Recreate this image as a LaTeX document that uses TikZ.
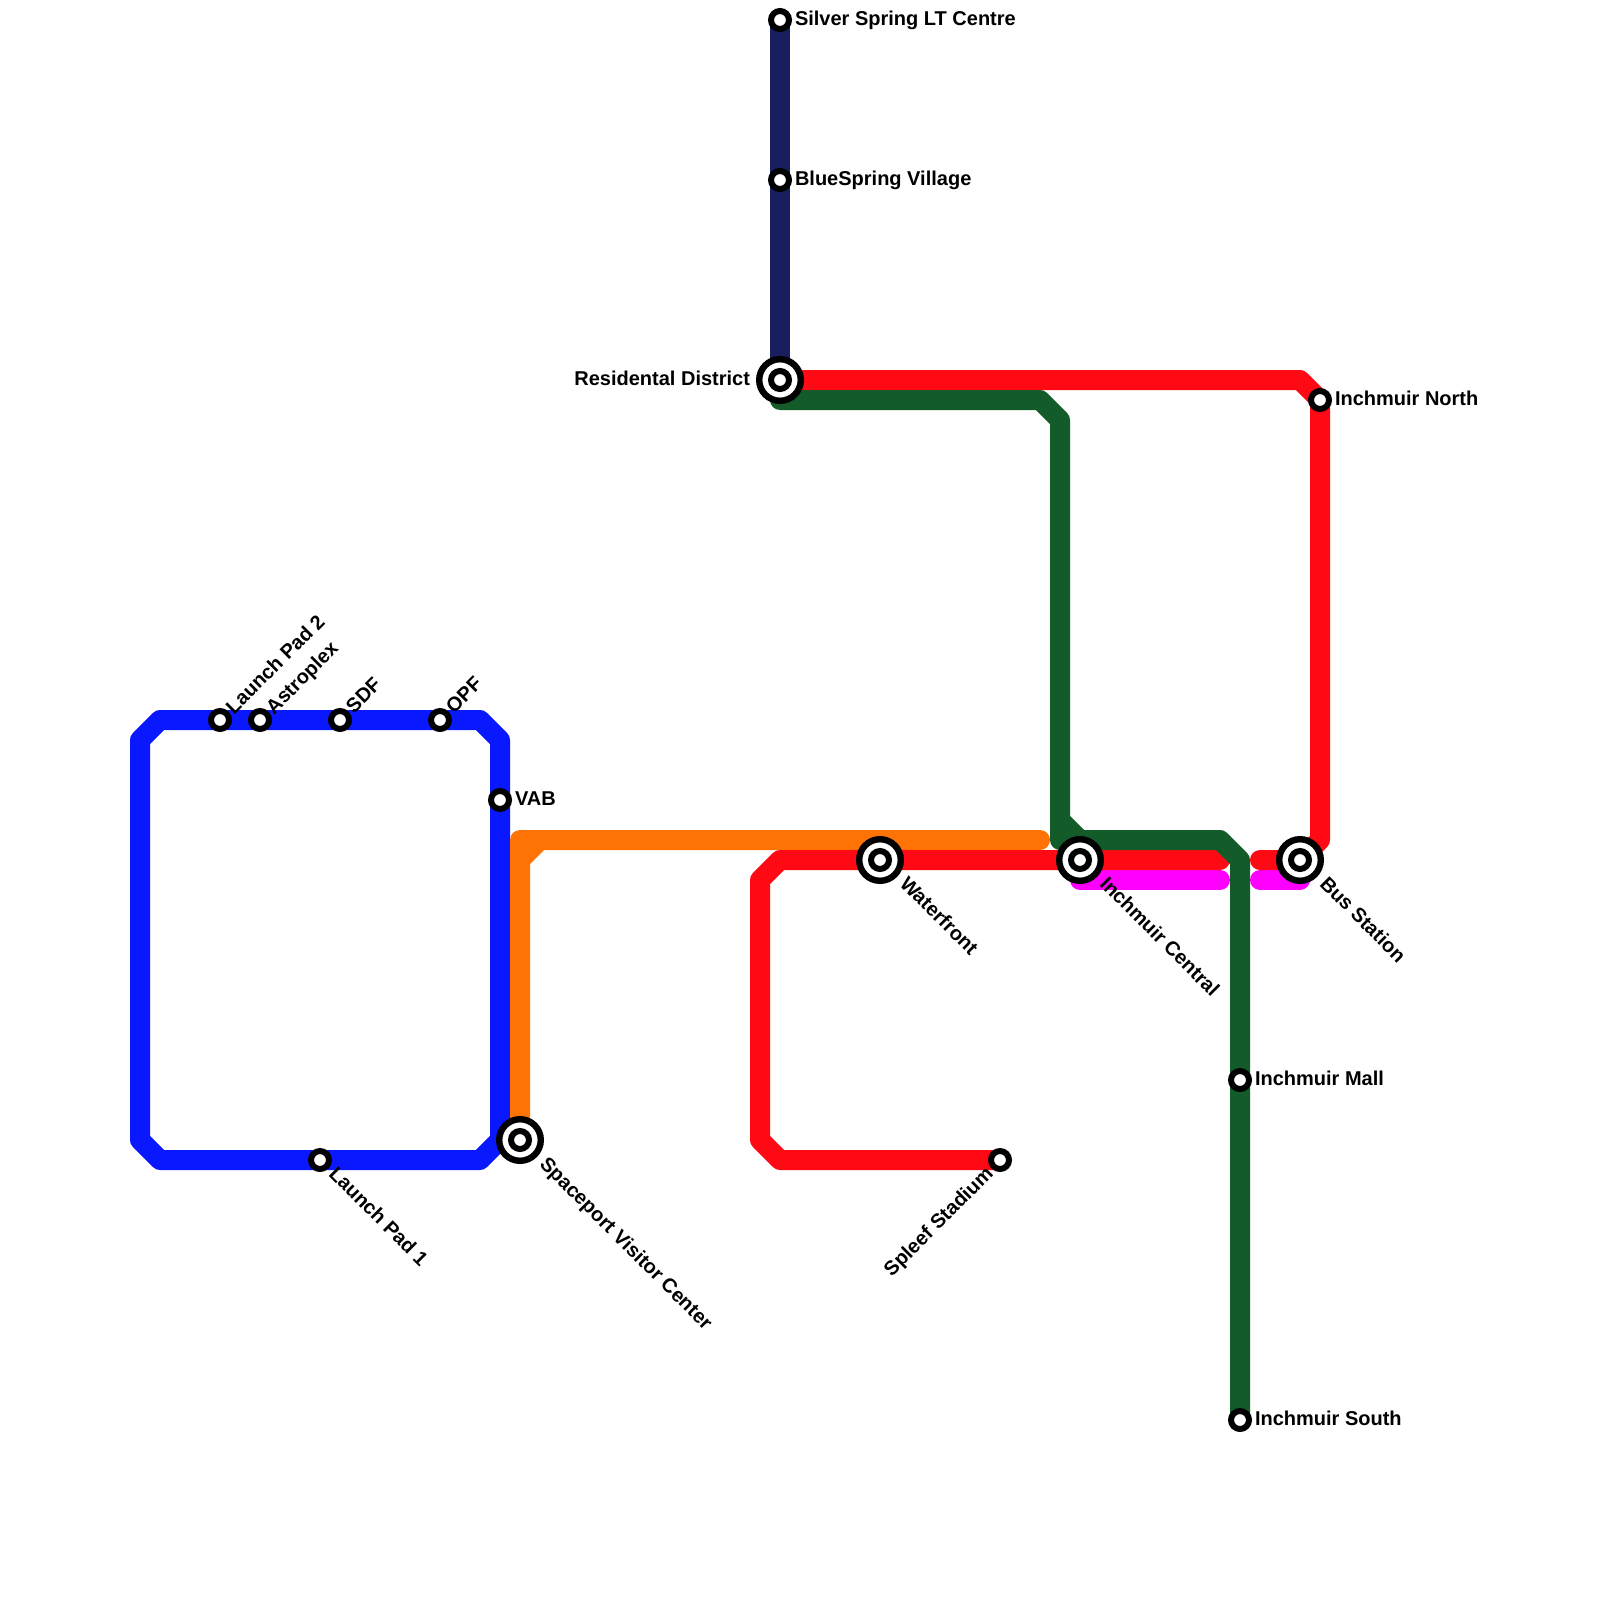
\documentclass[tikz,border=0pt]{standalone}
\usepackage{fontspec}
\setmainfont{Liberation Sans}
\usetikzlibrary{positioning,calc,backgrounds}

\definecolor{navyline}{RGB}{25,30,95}
\definecolor{redline}{RGB}{255,10,20}
\definecolor{greenline}{RGB}{19,92,42}
\definecolor{blueline}{RGB}{10,24,255}
\definecolor{orangeline}{RGB}{255,115,5}
\definecolor{magentaline}{RGB}{255,0,255}

\tikzset{
    stop/.style={circle,draw=black,fill=white,line width=3pt,inner sep=0pt,outer sep=0pt,minimum size=9pt},
    bigstop/.style={circle,draw=black,fill=white,line width=3.2pt,inner sep=0pt,outer sep=0pt,minimum size=20.8pt},
    stoplabel/.style={inner sep=0pt,outer sep=0pt,text height=7.2pt,text depth=0pt,font=\bfseries\fontsize{10}{12}\selectfont},
    metro/.style={line width=10pt,line cap=round,line join=round}
}

\begin{document}
\begin{tikzpicture}[x=0.5pt,y=-0.5pt]
    \useasboundingbox (0,0) rectangle (1600,1600);

    % single stops
    \node[stop] (silver) at (780,20) {};
    \node[stop] (bluespring) at (780,180) {};
    \node[stop] (north) at (1320,400) {};
    \node[stop] (mall) at (1240,1080) {};
    \node[stop] (south) at (1240,1420) {};
    \node[stop] (spleef) at (1000,1160) {};
    \node[stop] (pad2) at (220,720) {};
    \node[stop] (astroplex) at (260,720) {};
    \node[stop] (sdf) at (340,720) {};
    \node[stop] (opf) at (440,720) {};
    \node[stop] (vab) at (500,800) {};
    \node[stop] (pad1) at (320,1160) {};

    % interchanges
    \node[bigstop] (residental) at (780,380) {};
    \node[stop] (residental-in) at (residental.center) {};
    \node[bigstop] (waterfront) at (880,860) {};
    \node[stop] (waterfront-in) at (waterfront.center) {};
    \node[bigstop] (central) at (1080,860) {};
    \node[stop] (central-in) at (central.center) {};
    \node[bigstop] (bus) at (1300,860) {};
    \node[stop] (bus-in) at (bus.center) {};
    \node[bigstop] (spaceport) at (520,1140) {};
    \node[stop] (spaceport-in) at (spaceport.center) {};

    % labels
    \node[stoplabel,anchor=west] (silver-label) at ($(silver.center)+(15,-2)$) {Silver Spring LT Centre};
    \node[stoplabel,anchor=west] (bluespring-label) at ($(bluespring.center)+(15,-2)$) {BlueSpring Village};
    \node[stoplabel,anchor=east] (residental-label) at ($(residental.center)+(-30,-2)$) {Residental District};
    \node[stoplabel,anchor=west] (north-label) at ($(north.center)+(15,-2)$) {Inchmuir North};
    \node[stoplabel,anchor=west] (mall-label) at ($(mall.center)+(15,-2)$) {Inchmuir Mall};
    \node[stoplabel,anchor=west] (south-label) at ($(south.center)+(15,-2)$) {Inchmuir South};
    \node[stoplabel,anchor=west] (vab-label) at ($(vab.center)+(15,-2)$) {VAB};
    \node[stoplabel,anchor=west,rotate=45] (pad2-label) at ($(pad2.center)+(9,-10)$) {Launch Pad 2};
    \node[stoplabel,anchor=west,rotate=45] (astroplex-label) at ($(astroplex.center)+(9,-10)$) {Astroplex};
    \node[stoplabel,anchor=west,rotate=45] (sdf-label) at ($(sdf.center)+(9,-11)$) {SDF};
    \node[stoplabel,anchor=west,rotate=45] (opf-label) at ($(opf.center)+(9,-11)$) {OPF};
    \node[stoplabel,anchor=east,rotate=45] (spleef-label) at ($(spleef.center)+(-11,10)$) {Spleef Stadium};
    \node[stoplabel,anchor=west,rotate=-45] (pad1-label) at ($(pad1.center)+(13,10)$) {Launch Pad 1};
    \node[stoplabel,anchor=west,rotate=-45] (spaceport-label) at ($(spaceport.center)+(24,20)$) {Spaceport Visitor Center};
    \node[stoplabel,anchor=west,rotate=-45] (waterfront-label) at ($(waterfront.center)+(24,20)$) {Waterfront};
    \node[stoplabel,anchor=west,rotate=-45] (central-label) at ($(central.center)+(24,20)$) {Inchmuir Central};
    \node[stoplabel,anchor=west,rotate=-45] (bus-label) at ($(bus.center)+(24,20)$) {Bus Station};

    % bends
    \coordinate (blue-a) at (480,720);
    \coordinate (blue-b) at (500,740);
    \coordinate (blue-c) at (500,1140);
    \coordinate (blue-d) at (480,1160);
    \coordinate (blue-e) at (160,1160);
    \coordinate (blue-f) at (140,1140);
    \coordinate (blue-g) at (140,740);
    \coordinate (blue-h) at (160,720);
    \coordinate (orange-a) at (520,860);
    \coordinate (orange-b) at (520,840);
    \coordinate (orange-c) at (540,840);
    \coordinate (orange-d) at (1040,840);
    \coordinate (red-a) at (1300,380);
    \coordinate (red-b) at (1320,840);
    \coordinate (red-c) at (1260,860);
    \coordinate (red-d) at (1220,860);
    \coordinate (red-e) at (780,860);
    \coordinate (red-f) at (760,880);
    \coordinate (red-g) at (760,1140);
    \coordinate (red-h) at (780,1160);
    \coordinate (pink-a) at (1080,880);
    \coordinate (pink-b) at (1220,880);
    \coordinate (pink-c) at (1260,880);
    \coordinate (pink-d) at (1300,880);
    \coordinate (green-a) at (780,400);
    \coordinate (green-b) at (1040,400);
    \coordinate (green-c) at (1060,420);
    \coordinate (green-d) at (1060,820);
    \coordinate (green-e) at (1060,840);
    \coordinate (green-f) at (1080,840);
    \coordinate (green-g) at (1220,840);
    \coordinate (green-h) at (1240,860);

    \begin{scope}[on background layer]
        \draw [metro,blueline] (blue-h) -- (blue-a) -- (blue-b) -- (blue-c) -- (blue-d) -- (blue-e) -- (blue-f) -- (blue-g) -- cycle;
        \draw [metro,orangeline] (spaceport.center) -- (orange-a) -- (orange-c) -- (orange-d);
        \draw [metro,orangeline] (orange-a) -- (orange-b) -- (orange-c);
        \draw [metro,navyline] (silver.center) -- (residental.center);
        \draw [metro,magentaline] (pink-a) -- (pink-b);
        \draw [metro,magentaline] (pink-c) -- (pink-d);
        \draw [metro,redline] (residental.center) -- (red-a) -- (north.center) -- (red-b) -- (bus.center) -- (red-c);
        \draw [metro,redline] (red-d) -- (red-e) -- (red-f) -- (red-g) -- (red-h) -- (spleef.center);
        \draw [metro,greenline] (green-a) -- (green-b) -- (green-c) -- (green-d) -- (green-f) -- (green-g) -- (green-h) -- (south.center);
        \draw [metro,greenline] (green-d) -- (green-e) -- (green-f);
    \end{scope}
\end{tikzpicture}
\end{document}
